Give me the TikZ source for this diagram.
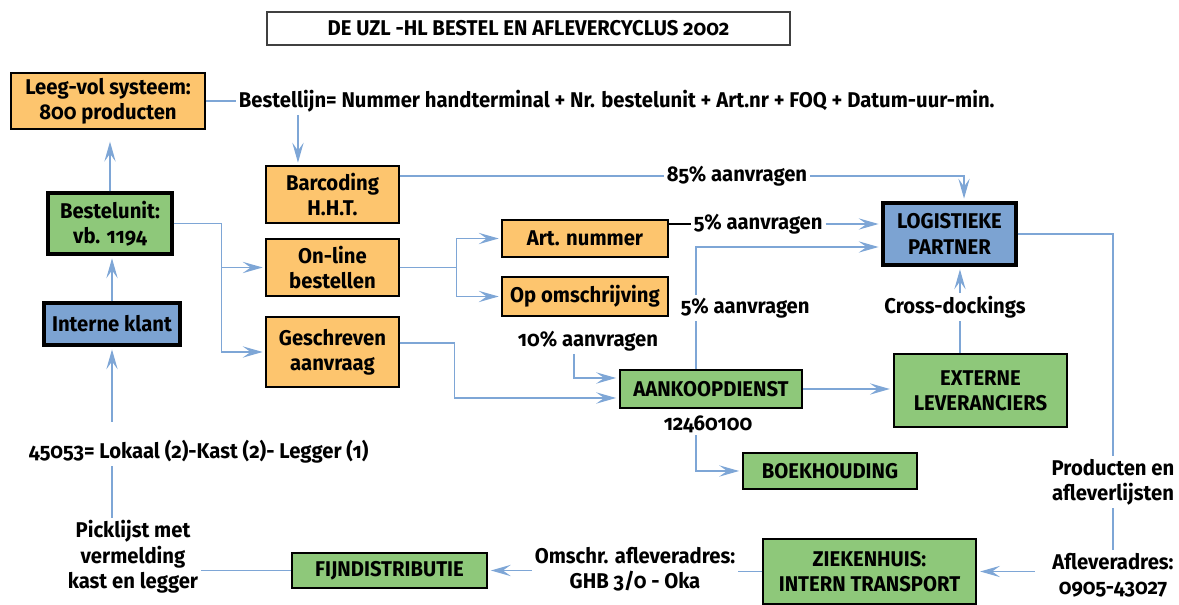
\documentclass[tikz,border=0pt]{standalone}
\usepackage{fontspec}
\setmainfont{Fira Sans}[Numbers=OldStyle, RawFeature=+onum, FakeStretch=0.95]
\usetikzlibrary{arrows.meta,calc}
\definecolor{cOr}{RGB}{253,197,110}
\definecolor{cGr}{RGB}{142,200,122}
\definecolor{cBl}{RGB}{124,163,210}
\definecolor{cLn}{RGB}{126,166,214}
\newcommand\fsz{\fontsize{16}{19}\selectfont}
\tikzset{
 base/.style={draw=black, inner sep=0pt, align=center, font=\fsz\bfseries},
 obox/.style={base, fill=cOr, line width=1pt},
 gbox/.style={base, fill=cGr, line width=1.8pt},
 bbox/.style={base, fill=cBl, line width=2.6pt},
 tbox/.style={base, draw=black!75, fill=white, line width=0.8pt},
 lbl/.style={align=center, font=\fsz\bfseries, inner sep=2pt},
 conn/.style={draw=cLn, line width=0.9pt},
 arr/.style={conn, -{Stealth[length=15pt,width=8.5pt,inset=6pt]}, shorten >=2pt},
}
\begin{document}
\begin{tikzpicture}[x=0.75pt,y=-0.75pt]
\useasboundingbox (0,0) rectangle (1179,605);
% boxes
\node[tbox, minimum width=392.25pt, minimum height=24.75pt] (title) at (528.5,28.5) {DE UZL -HL BESTEL EN AFLEVERCYCLUS 2002};
\node[obox, minimum width=145.5pt, minimum height=42pt] (lv) at (108,101) {Leeg-vol systeem:\\800 producten};
\node[obox, minimum width=99.75pt, minimum height=42.75pt] (barc) at (332.5,194.5) {Barcoding\\H.H.T.};
\node[gbox, line width=2.4pt, minimum width=93pt, minimum height=45.75pt] (bu) at (110,223.5) {Bestelunit:\\vb. 1194};
\node[obox, minimum width=99.75pt, minimum height=42.75pt] (ol) at (332.5,267.5) {On-line\\bestellen};
\node[bbox, minimum width=102pt, minimum height=31.5pt] (ik) at (112,324) {Interne klant};
\node[obox, minimum width=99.75pt, minimum height=52.5pt] (gs) at (332.5,352) {Geschreven\\aanvraag};
\node[obox, minimum width=124.5pt, minimum height=27.75pt] (an) at (585,238.5) {Art. nummer};
\node[obox, minimum width=124.5pt, minimum height=29.25pt] (op) at (585,296.5) {Op omschrijving};
\node[bbox, minimum width=99.75pt, minimum height=46.5pt] (lp) at (949.5,234) {LOGISTIEKE\\PARTNER};
\node[gbox, minimum width=136.5pt, minimum height=28.5pt] (ak) at (711,389) {AANKOOPDIENST};
\node[gbox, line width=2.2pt, minimum width=129.75pt, minimum height=54.75pt] (ex) at (980.5,390.5) {EXTERNE\\LEVERANCIERS};
\node[gbox, minimum width=130.5pt, minimum height=27pt] (bk) at (830,471) {BOEKHOUDING};
\node[gbox, minimum width=146.25pt, minimum height=26.25pt] (fd) at (389.5,570.5) {FIJNDISTRIBUTIE};
\node[gbox, line width=2.2pt, minimum width=159.75pt, minimum height=48.75pt] (zh) at (869.5,571.5) {ZIEKENHUIS:\\INTERN TRANSPORT};
% labels
\node[lbl, anchor=west] (bl) at (236,101) {Bestellijn= Nummer handterminal + Nr. bestelunit + Art.nr + FOQ + Datum-uur-min.};
\node[lbl, anchor=west] (p85) at (664,176) {85\% aanvragen};
\node[lbl, anchor=west] (p5a) at (691,224) {5\% aanvragen};
\node[lbl, anchor=west] (p5b) at (678,308) {5\% aanvragen};
\node[lbl, anchor=west] (p10) at (515,341) {10\% aanvragen};
\node[lbl] (num) at (708,424) {12460100};
\node[lbl] (cd) at (955,307) {Cross-dockings};
\node[lbl, anchor=west] (t45) at (26,452) {45053= Lokaal (2)-Kast (2)- Legger (1)};
\node[lbl] (pick) at (133,557) {Picklijst met\\vermelding\\kast en legger};
\node[lbl] (om) at (635,569) {Omschr. afleveradres:\\GHB 3/0 - Oka};
\node[lbl] (prod) at (1113,482) {Producten en\\afleverlijsten};
\node[lbl] (afl) at (1113,575) {Afleveradres:\\0905-43027};
% helper coordinates
\coordinate (bx) at ([xshift=-25.9pt]barc.north);
\coordinate (lpn) at ([xshift=10.9pt]lp.north);
\coordinate (akx) at ([xshift=-11.25pt]ak.north);
\coordinate (lpw) at ([yshift=-9.75pt]lp.west);
\coordinate (exx) at ([xshift=-15.4pt]ex.north);
\coordinate (p10x) at ([xshift=-10.5pt]p10.south);
\coordinate (akw1) at ([yshift=8.25pt]ak.west);
\coordinate (akw2) at ([yshift=-6.75pt]ak.west);
\coordinate (gse) at ([yshift=6.75pt]gs.east);
\coordinate (aflw) at ([xshift=-11pt]afl.west);
% connectors
\draw[conn] (lv.east) -- (bl.west |- lv.east);
\draw[arr] (bx |- bl.south) -- (bx);
\draw[arr, shorten >=9pt] (bu.north) -- (bu.north |- lv.south);
\draw[arr] (ik.north) -- (ik.north |- bu.south);
\draw[arr, shorten <=12pt] (ik.south |- t45.north) -- (ik.south);
\draw[conn] (ik.south |- pick.north) -- (ik.south |- t45.south);
\draw[conn] (fd.west) -- (fd.west -| pick.east);
\draw[arr] (om.west |- fd.east) -- (fd.east);
\draw[conn] (zh.west) -- (zh.west -| om.east);
\draw[arr] (aflw |- zh.east) -- (zh.east);
\draw[conn] (lp.east) -| (prod.north);
\draw[conn] (prod.south) -- (afl.north);
\draw[conn] (barc.east |- p85.west) -- (p85.west);
\draw[arr] (p85.east) -| (lpn);
\draw[draw=black, line width=0.9pt] (an.east |- p5a.west) -- (p5a.west);
\draw[arr] (p5a.east) -- (p5a.east -| lp.west);
\draw[conn] (akx) -- (akx |- p5b.south);
\draw[arr] (akx |- p5b.north) |- (lpw);
\draw[conn] (exx) -- (exx |- cd.south);
\draw[arr] (exx |- cd.north) -- (exx |- lp.south);
\draw[arr] (akx |- num.south) |- (bk.west);
\draw[arr] (p10x) |- (akw1);
\draw[arr] (gse) -- ++(41.25pt,0) |- (akw2);
\draw[arr] (ak.east) -- (ak.east -| ex.west);
\draw[arr] (bu.east) -- ++(36pt,0) |- (gs.west);
\draw[arr] (bu.east) ++(36pt,0) |- (ol.west);
\draw[arr] (ol.east) -- ++(42.75pt,0) |- (an.west);
\draw[arr] (ol.east) ++(42.75pt,0) |- (op.west);
\end{tikzpicture}
\end{document}
